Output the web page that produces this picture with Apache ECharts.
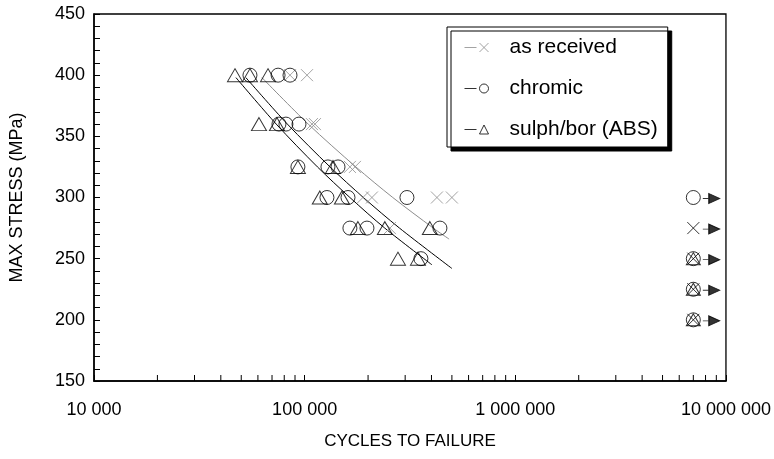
<!DOCTYPE html>
<html>
<head>
<meta charset="utf-8">
<script src="https://cdn.jsdelivr.net/npm/echarts@6/dist/echarts.min.js"></script>
<style>
  html, body { margin: 0; padding: 0; background: #fff; }
  #chart { width: 774px; height: 459px; }
</style>
</head>
<body>
<div id="chart"></div>
<script>
// Fatigue results: [cycles to failure, max stress (MPa)]
const asReceived = [
  [85200, 400], [102600, 400],
  [108300, 360], [111900, 360],
  [164000, 325], [173300, 325],
  [189000, 300], [208600, 300], [424600, 300], [500000, 300],
  [254000, 275]
];
const chromic = [
  [55000, 400], [74800, 400], [85200, 400],
  [75500, 360], [81500, 360], [94000, 360],
  [92900, 325], [129000, 325], [144000, 325],
  [127600, 300], [160600, 300], [305900, 300],
  [164000, 275], [197600, 275], [438700, 275],
  [356400, 250]
];
const sulphBor = [
  [46700, 400], [55000, 400], [67000, 400],
  [60700, 360], [73900, 360],
  [92900, 325], [136300, 325],
  [118000, 300], [150300, 300],
  [179000, 275], [240400, 275], [393000, 275],
  [277300, 250], [345000, 250]
];

// Fitted S-N curves
const asReceivedFit = [[62700, 398], [104000, 360], [175000, 325], [262000, 300], [408000, 275], [485000, 266]];
const chromicFit = [[52600, 398], [82800, 360], [132000, 325], [190000, 300], [282000, 275], [500000, 242]];
const sulphBorFit = [[47200, 398], [73300, 360], [115000, 325], [164000, 300], [240000, 275], [402000, 245]];

// Run-outs (unbroken specimens)
const runoutCycles = 7000000;
const runoutChromic = [300, 250, 225, 200];
const runoutAsReceived = [275, 250, 225, 200];
const runoutSulphBor = [250, 225, 200];
const runoutLevels = [300, 275, 250, 225, 200];

// Axis ranges and tick labels
const xMin = 10000, xMax = 10000000;
const yMin = 150, yMax = 450, yStep = 50;
const xMinorMultiples = [2, 3, 4, 5, 6, 7, 8, 9];
const xDecades = [10000, 100000, 1000000];

const xMinorTicks = [];
xDecades.forEach(d => xMinorMultiples.forEach(m => xMinorTicks.push([d * m, yMin])));

const GREY = '#8c8c8c';
const FONT = 'Liberation Sans, Arial, sans-serif';
const crossPath = 'path://M0,0L10,10M10,0L0,10';
const arrowPath = 'path://M0,5L6,5M6,0L17,5L6,10Z';

function groupThousands(v) {
  return String(Math.round(v)).replace(/\B(?=(\d{3})+(?!\d))/g, ' ');
}

const chart = echarts.init(document.getElementById('chart'), null, { renderer: 'canvas' });

const hollow = 'rgba(0,0,0,0)';

chart.setOption({
  animation: false,
  backgroundColor: '#fff',
  grid: {
    left: 94, right: 48, top: 14, bottom: 78,
    show: true, borderColor: '#000', borderWidth: 1.3, backgroundColor: 'transparent'
  },
  legend: {
    orient: 'vertical',
    left: 447, top: 27,
    padding: [10, 10, 7, 17],
    itemGap: 20,
    itemWidth: 40, itemHeight: 9,
    backgroundColor: '#fff',
    borderColor: '#000', borderWidth: 1,
    shadowColor: '#000', shadowBlur: 0, shadowOffsetX: 4, shadowOffsetY: 4,
    textStyle: { fontFamily: FONT, fontSize: 21, color: '#000' },
    data: [
      { name: 'as received', icon: 'path://M0,5L12,5M15,0.5L24,9.5M24,0.5L15,9.5M40,5',
        itemStyle: { color: hollow, borderColor: GREY, borderWidth: 1 } },
      { name: 'chromic', icon: 'path://M0,5L12,5M24,5A4.5,4.5 0 1 1 15,5A4.5,4.5 0 1 1 24,5M40,5',
        itemStyle: { color: hollow, borderColor: '#000', borderWidth: 1 } },
      { name: 'sulph/bor (ABS)', icon: 'path://M0,5L12,5M15,9.5L19.5,0.5L24,9.5ZM40,5',
        itemStyle: { color: hollow, borderColor: '#000', borderWidth: 1 } }
    ]
  },
  xAxis: {
    type: 'log', logBase: 10, min: xMin, max: xMax,
    name: 'CYCLES TO FAILURE', nameLocation: 'middle', nameGap: 52,
    nameTextStyle: { fontFamily: FONT, fontSize: 17, color: '#000' },
    axisLine: { lineStyle: { color: '#000', width: 1.5 } },
    axisTick: { inside: true, length: 6, lineStyle: { color: '#000' } },
    splitLine: { show: false },
    axisLabel: { fontFamily: FONT, fontSize: 18, color: '#000', margin: 20, formatter: groupThousands }
  },
  yAxis: {
    type: 'value', min: yMin, max: yMax, interval: yStep,
    name: 'MAX STRESS (MPa)', nameLocation: 'middle', nameGap: 68,
    nameTextStyle: { fontFamily: FONT, fontSize: 18, color: '#000' },
    axisLine: { show: true, lineStyle: { color: '#000', width: 1.5 } },
    axisTick: { show: true, inside: true, length: 6, lineStyle: { color: '#000' } },
    minorTick: { show: true, splitNumber: 5, length: 6, lineStyle: { color: '#000' } },
    splitLine: { show: false },
    axisLabel: { fontFamily: FONT, fontSize: 18, color: '#000', margin: 9 }
  },
  series: [
    {
      name: 'x minor ticks', type: 'custom', silent: true, z: 1,
      data: xMinorTicks,
      renderItem: function (params, api) {
        const p = api.coord([api.value(0), api.value(1)]);
        return { type: 'line', shape: { x1: p[0], y1: p[1], x2: p[0], y2: p[1] - 6 },
                 style: { stroke: '#000', lineWidth: 1 } };
      }
    },
    { name: 'as received fit', type: 'line', data: asReceivedFit, smooth: 0.3, symbol: 'none',
      lineStyle: { color: GREY, width: 1 }, z: 2 },
    { name: 'chromic fit', type: 'line', data: chromicFit, smooth: 0.3, symbol: 'none',
      lineStyle: { color: '#000', width: 1 }, z: 2 },
    { name: 'sulph/bor fit', type: 'line', data: sulphBorFit, smooth: 0.3, symbol: 'none',
      lineStyle: { color: '#000', width: 1 }, z: 2 },
    { name: 'as received', type: 'scatter', data: asReceived, symbol: crossPath, symbolSize: 12,
      itemStyle: { color: hollow, borderColor: GREY, borderWidth: 1 }, z: 3 },
    { name: 'chromic', type: 'scatter', data: chromic, symbol: 'circle', symbolSize: 14,
      itemStyle: { color: hollow, borderColor: '#000', borderWidth: 1 }, z: 3 },
    { name: 'sulph/bor (ABS)', type: 'scatter', data: sulphBor, symbol: 'triangle', symbolSize: [15, 13],
      itemStyle: { color: hollow, borderColor: '#000', borderWidth: 1 }, z: 3 },
    { name: 'chromic run-out', type: 'scatter', data: runoutChromic.map(s => [runoutCycles, s]),
      symbol: 'circle', symbolSize: 14,
      itemStyle: { color: hollow, borderColor: '#000', borderWidth: 1 }, z: 3 },
    { name: 'as received run-out', type: 'scatter', data: runoutAsReceived.map(s => [runoutCycles, s]),
      symbol: crossPath, symbolSize: 12,
      itemStyle: { color: hollow, borderColor: '#000', borderWidth: 1 }, z: 3 },
    { name: 'sulph/bor run-out', type: 'scatter', data: runoutSulphBor.map(s => [runoutCycles, s]),
      symbol: 'triangle', symbolSize: [14, 12],
      itemStyle: { color: hollow, borderColor: '#000', borderWidth: 1 }, z: 3 },
    { name: 'run-out arrows', type: 'scatter', data: runoutLevels.map(s => [runoutCycles, s]),
      symbol: arrowPath, symbolSize: [17, 10], symbolOffset: [18, 1],
      itemStyle: { color: '#000', borderColor: '#000', borderWidth: 1 }, z: 3 }
  ]
});
</script>
</body>
</html>
